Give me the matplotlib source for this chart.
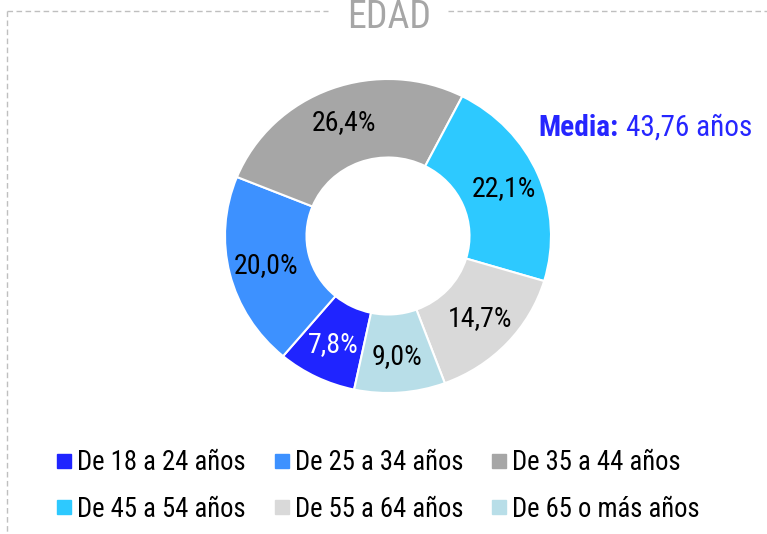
import matplotlib
matplotlib.use("Agg")
import matplotlib.pyplot as plt
from matplotlib.lines import Line2D
from matplotlib import font_manager

# Datos de la gráfica
grupos = ["De 18 a 24 años", "De 25 a 34 años", "De 35 a 44 años",
          "De 45 a 54 años", "De 55 a 64 años", "De 65 o más años"]
porcentajes = [7.8, 20.0, 26.4, 22.1, 14.7, 9.0]
colores = ["#1F24FF", "#3D91FF", "#A6A6A6", "#2DC9FF", "#D9D9D9", "#B8DEE8"]
titulo = "EDAD"
media_etiqueta = "Media:"
media_valor = "43,76 años"

# Fuente estrecha (tipo Arial Narrow) si hay alguna
nombres = {f.name for f in font_manager.fontManager.ttflist}
candidatas = ["Liberation Sans Narrow", "Roboto Condensed", "PT Sans Narrow",
              "Archivo Narrow", "Open Sans Condensed"]
fuente = next((c for c in candidatas if c in nombres), "DejaVu Sans")
plt.rcParams["font.family"] = [fuente, "DejaVu Sans"]

W, H = 767, 534
fig = plt.figure(figsize=(W / 100, H / 100), dpi=100)
renderer = fig.canvas.get_renderer()

def medir(texto, **kw):
    t = fig.text(0, 0, texto, fontsize=10, **kw)
    bb = t.get_window_extent(renderer)
    t.remove()
    return bb

def tam(texto, ancho_px, **kw):
    # tamaño de letra para que el texto ocupe ancho_px
    return 10 * ancho_px / medir(texto, **kw).width

fs_pct = tam("26,4%", 64)
fs_tit = tam(titulo, 84)
fs_media = (tam(media_etiqueta, 82, fontweight="bold") + tam(media_valor, 124)) / 2
fs_leg = tam(grupos[0], 167)

# Donut (centro y radios en píxeles)
cx, cy, rx, ry = 388, 236, 163, 157
ax = fig.add_axes([(cx - rx) / W, (H - cy - ry) / H, 2 * rx / W, 2 * ry / H])
wedges, textos, autotextos = ax.pie(
    porcentajes, colors=colores, startangle=-102, counterclock=False,
    radius=1, wedgeprops=dict(width=0.5, edgecolor="white", linewidth=1.5),
    autopct=lambda p: f"{p:.1f}".replace(".", ",") + "%", pctdistance=0.77,
    textprops=dict(fontsize=fs_pct, color="black"))
autotextos[0].set_color("white")
ax.set_aspect("auto")
ax.set_xlim(-1, 1)
ax.set_ylim(-1, 1)
ax.axis("off")

# Marco discontinuo (solo arriba e izquierda)
estilo = dict(color="#BFBFBF", linewidth=1, linestyle=(0, (4, 2.5)), transform=None)
for xs, ys in [([7, 328], [11, 11]), ([448, W], [11, 11]), ([7, 7], [11, H])]:
    fig.add_artist(Line2D(xs, [H - y for y in ys], **estilo))

# Título
fig.text(389 / W, 1 - 28 / H, titulo, ha="center", va="baseline",
         fontsize=fs_tit, color="#A6A6A6")

# Media
t1 = fig.text(538 / W, 1 - 136 / H, media_etiqueta, ha="left", va="baseline",
              fontsize=fs_media, fontweight="bold", color="#2626FF")
ext = t1.get_window_extent(renderer)
fig.text((ext.x1 + 8) / W, 1 - 136 / H, media_valor, ha="left", va="baseline",
         fontsize=fs_media, color="#2626FF")

# Leyenda: tres columnas, rellenada por filas
fs_px = fs_leg * 100 / 72
alto = medir(grupos[0]).height * fs_leg / 10
orden = [0, 3, 1, 4, 2, 5]
handles = [Line2D([], [], marker="s", linestyle="none", markersize=10,
                  markerfacecolor=colores[i], markeredgecolor=colores[i]) for i in orden]
fig.legend(handles, [grupos[i] for i in orden], loc="center left",
           bbox_to_anchor=(57 / W, 1 - 486 / H), ncol=3, frameon=False,
           fontsize=fs_leg, handlelength=14 / fs_px, handletextpad=6 / fs_px,
           columnspacing=29 / fs_px, labelspacing=(46 - alto) / fs_px,
           borderpad=0, borderaxespad=0)

fig.savefig("out.png", dpi=100)
